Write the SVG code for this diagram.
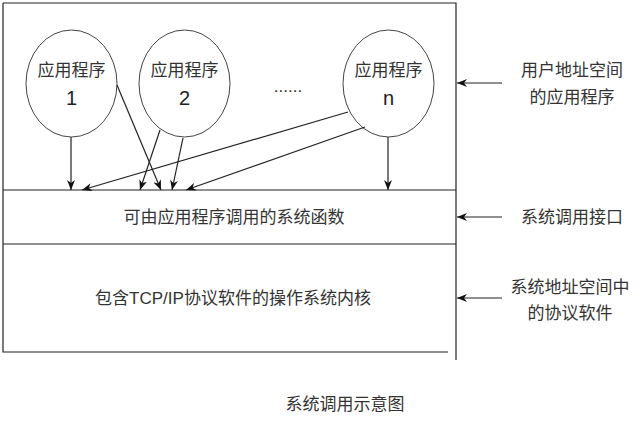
<svg xmlns="http://www.w3.org/2000/svg" width="640" height="434" viewBox="0 0 640 434">
<defs>
<marker id="ah" markerWidth="10" markerHeight="8" refX="10" refY="4" orient="auto" markerUnits="userSpaceOnUse">
<path d="M0,0 L10,4 L0,8 L3,4 Z" fill="#111"/>
</marker>
<style>
.ln{stroke:#222;stroke-width:1.2;fill:none}
.ar{stroke:#222;stroke-width:1.2;fill:none;marker-end:url(#ah)}
.el{stroke:#444;stroke-width:1;fill:#fff}
.t{font-family:"Liberation Sans","Noto Sans CJK SC",sans-serif;font-size:17px;fill:#333;text-anchor:middle;dominant-baseline:central}
.n{font-family:"Liberation Sans",sans-serif;font-size:20px;fill:#222;text-anchor:middle;dominant-baseline:central}
</style>
</defs>
<rect width="640" height="434" fill="#fff"/>
<g id="frame">
<path class="ln" d="M3,3 H456 V360 M3,3 V352 H448 M3,190 H456 M3,244 H456"/>
</g>
<g id="app1">
<ellipse class="el" cx="71.5" cy="83.5" rx="45.5" ry="53.5"/>
<text class="t" x="71.5" y="70">应用程序</text>
<text class="n" x="71.5" y="98">1</text>
</g>
<g id="app2">
<ellipse class="el" cx="184.5" cy="83.5" rx="45.5" ry="53.5"/>
<text class="t" x="184.5" y="70">应用程序</text>
<text class="n" x="184.5" y="98">2</text>
</g>
<g id="dots">
<text class="t" x="288" y="86">......</text>
</g>
<g id="appn">
<ellipse class="el" cx="388.5" cy="83.5" rx="45.5" ry="53.5"/>
<text class="t" x="388.5" y="70">应用程序</text>
<text class="n" x="388.5" y="98">n</text>
</g>
<g id="syscall">
<text class="t" x="234" y="217">可由应用程序调用的系统函数</text>
</g>
<g id="kernel">
<text class="t" x="233" y="298">包含TCP/IP协议软件的操作系统内核</text>
</g>
<g id="labels">
<text class="t" x="572" y="70">用户地址空间</text>
<text class="t" x="572" y="97">的应用程序</text>
<text class="t" x="572" y="217">系统调用接口</text>
<text class="t" x="570" y="287">系统地址空间中</text>
<text class="t" x="570" y="313">的协议软件</text>
<text class="t" x="345" y="404">系统调用示意图</text>
</g>
<g id="connectors">
<line class="ar" x1="71" y1="137" x2="71" y2="190"/>
<line class="ar" x1="117" y1="85" x2="161" y2="190"/>
<line class="ar" x1="160" y1="130" x2="140" y2="190"/>
<line class="ar" x1="183" y1="138" x2="172" y2="190"/>
<line class="ar" x1="348" y1="112" x2="82" y2="190"/>
<line class="ar" x1="365" y1="127" x2="186" y2="190"/>
<line class="ar" x1="388" y1="137" x2="388" y2="190"/>
<line class="ar" x1="502" y1="83" x2="457" y2="83"/>
<line class="ar" x1="502" y1="217" x2="457" y2="217"/>
<line class="ar" x1="502" y1="298" x2="457" y2="298"/>
</g>
</svg>
